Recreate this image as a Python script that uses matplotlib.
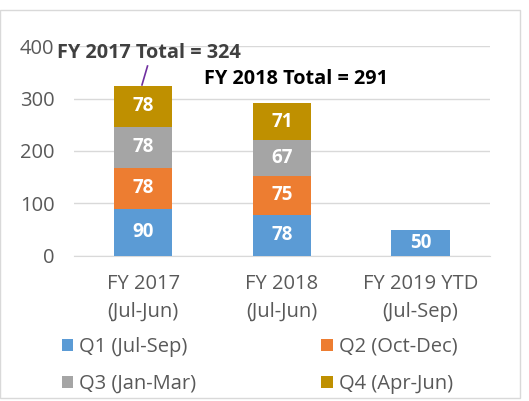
import matplotlib.pyplot as plt
from matplotlib.patches import Rectangle
import numpy as np

categories = ["FY 2017\n(Jul-Jun)", "FY 2018\n(Jul-Jun)", "FY 2019 YTD\n(Jul-Sep)"]
series_names = ["Q1 (Jul-Sep)", "Q2 (Oct-Dec)", "Q3 (Jan-Mar)", "Q4 (Apr-Jun)"]
q1 = [90, 78, 50]
q2 = [78, 75, 0]
q3 = [78, 67, 0]
q4 = [78, 71, 0]
totals_text = ["FY 2017 Total = 324", "FY 2018 Total = 291"]
colors = ["#5B9BD5", "#ED7D31", "#A5A5A5", "#BF9000"]

plt.rcParams['font.family'] = ['Open Sans', 'DejaVu Sans']

fig = plt.figure(figsize=(5.29, 4.01), dpi=100)
ax = fig.add_axes([0.14, 0.362, 0.786, 0.523])

x = np.arange(len(categories))
bottom = np.zeros(len(categories))
handles = []
for vals, name, c in zip([q1, q2, q3, q4], series_names, colors):
    vals = np.array(vals)
    b = ax.bar(x, vals, 0.42, bottom=bottom, color=c, label=name, zorder=3)
    handles.append(b)
    for xi, v, bt in zip(x, vals, bottom):
        if v > 0:
            ax.text(xi, bt + v / 2, str(v), ha='center', va='center',
                    color='white', fontsize=13.5, fontweight='bold', zorder=4)
    bottom += vals

ax.set_xlim(-0.5, 2.5)
ax.set_ylim(0, 400)
ax.set_yticks([0, 100, 200, 300, 400])
ax.yaxis.grid(True, color='#D9D9D9', linewidth=1, zorder=0)
for s in ax.spines.values():
    s.set_visible(False)
ax.spines['bottom'].set_visible(True)
ax.spines['bottom'].set_color('#D9D9D9')
ax.tick_params(axis='both', length=0, labelsize=14.5, colors='#595959')
ax.tick_params(axis='y', pad=14)
ax.tick_params(axis='x', pad=13)
ax.set_xticks(x)
ax.set_xticklabels(categories, linespacing=1.55)

# total annotations
ax.text(-0.62, 386, totals_text[0], ha='left', va='center', fontsize=14.3,
        fontweight='bold', color='#404040', zorder=5)
ax.plot([0.03, -0.01], [362, 326], color='#7030A0', linewidth=1.2, zorder=5)
ax.text(0.44, 338, totals_text[1], ha='left', va='center', fontsize=14.3,
        fontweight='bold', color='black', zorder=5)

order = [0, 2, 1, 3]
fig.legend([handles[i] for i in order], [series_names[i] for i in order],
           loc='upper left', bbox_to_anchor=(0.095, 0.19),
           ncol=2, frameon=False, fontsize=14.5, labelcolor='#595959',
           handlelength=0.55, handleheight=0.55, handletextpad=0.3,
           columnspacing=6.2, labelspacing=0.85, borderpad=0.1)

fig.patches.append(Rectangle((0.0, 0.008), 0.983, 0.967, transform=fig.transFigure,
                             fill=False, edgecolor='#D9D9D9', linewidth=1))

fig.savefig("out.png", dpi=100)
